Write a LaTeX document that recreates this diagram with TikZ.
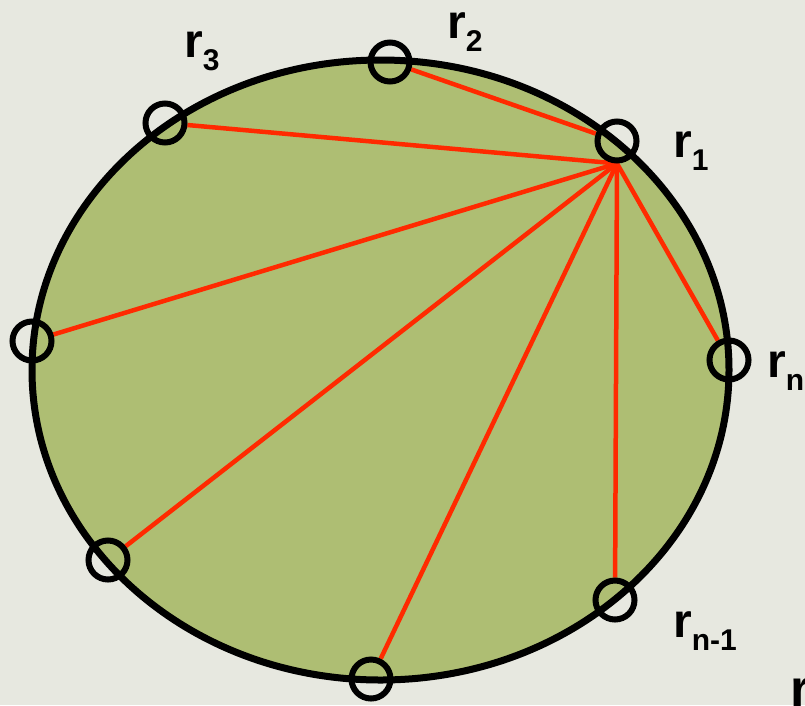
\documentclass[tikz,border=0pt]{standalone}
\usepackage{fontspec}
\setmainfont{Liberation Sans}
\usepackage{tikz}
\usetikzlibrary{positioning,calc,backgrounds}
\definecolor{bggray}{HTML}{E7E8E0}
\definecolor{olive}{HTML}{AEBE73}
\definecolor{chordred}{HTML}{FF2A00}
\newcommand{\rlab}[1]{{\fontsize{48}{48}\selectfont r}\raisebox{-13pt}{\fontsize{30}{30}\selectfont #1}}

\begin{document}
\begin{tikzpicture}[x=1pt,y=-1pt,
  site/.style={circle,draw=black,line width=6pt,minimum size=39pt,inner sep=0pt},
  chord/.style={chordred,line width=4.5pt},
  lab/.style={anchor=base west,inner sep=0pt,font=\bfseries}]
  \useasboundingbox (0,0) rectangle (805,705);

  % Sites on the boundary
  \node[site] (r1) at (617,141) {};
  \node[site] (r2) at (390,62) {};
  \node[site] (r3) at (165,123) {};
  \node[site] (rl) at (32,341) {};
  \node[site] (rbl) at (108,560) {};
  \node[site] (rb) at (371,679) {};
  \node[site] (rnm) at (615,600) {};
  \node[site] (rn) at (729,360) {};

  % Labels
  \node[lab] (l1) at (673,157) {\rlab{1}};
  \node[lab] (l2) at (447,38) {\rlab{2}};
  \node[lab] (l3) at (184,57) {\rlab{3}};
  \node[lab] (ln) at (767,377) {\rlab{n}};
  \node[lab] (lnm) at (673,637) {\rlab{n-1}};
  \node[lab] (lx) at (790,706) {\fontsize{52}{52}\selectfont r};

  \begin{scope}[on background layer]
    % Background
    \fill[bggray] (0,0) rectangle (805,705);
    % Ellipse
    \draw[line width=7pt,fill=olive] (380.5,370) ellipse [x radius=348.5, y radius=310];
    % Chords from r1
    \coordinate (hub) at (r1.south);
    \foreach \t in {r3,rl,rbl,rb,rnm,rn}
      \draw[chord] (hub) -- (\t);
    \draw[chord] (r1) -- (r2);
  \end{scope}
\end{tikzpicture}
\end{document}
